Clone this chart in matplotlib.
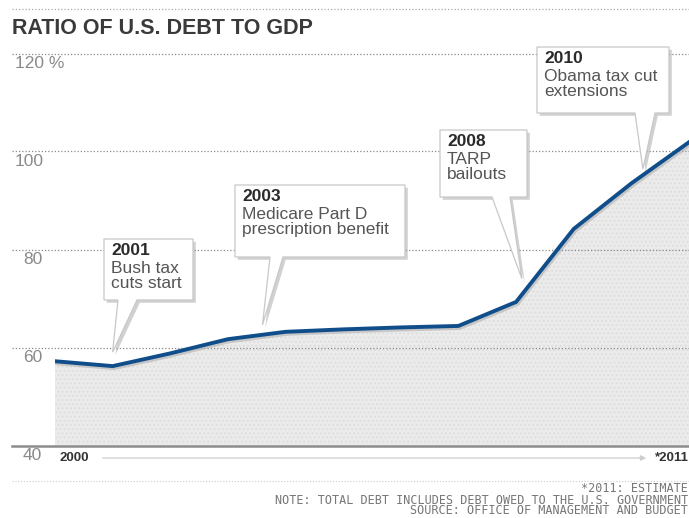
import numpy as np
import matplotlib
matplotlib.use('Agg')
import matplotlib.pyplot as plt
import matplotlib.patheffects as pe
import matplotlib.transforms as mtransforms
from matplotlib.patches import Polygon
from matplotlib.lines import Line2D

plt.rcParams['font.family'] = ['Liberation Sans', 'DejaVu Sans']

# Debt as a share of GDP (%); 2011 is an estimate
years = [2000, 2001, 2002, 2003, 2004, 2005, 2006, 2007, 2008, 2009, 2010, 2011]
ratio = [57.2, 56.2, 58.8, 61.7, 63.2, 63.7, 64.1, 64.4, 69.3, 84.2, 93.5, 101.9]

y_ticks = [40, 60, 80, 100, 120]
y_tick_labels = ['40', '60', '80', '100', '120 %']
x_labels = ['2000', '*2011']

# Callouts: title, text, and the year the pointer aims at
event_titles = ['2001', '2003', '2008', '2010']
event_texts = ['Bush tax\ncuts start', 'Medicare Part D\nprescription benefit',
               'TARP\nbailouts', 'Obama tax cut\nextensions']
event_tip_years = [2001.0, 2003.6, 2008.1, 2010.2]

notes = ['*2011: ESTIMATE',
         'NOTE: TOTAL DEBT INCLUDES DEBT OWED TO THE U.S. GOVERNMENT',
         'SOURCE: OFFICE OF MANAGEMENT AND BUDGET']

# box layout in image pixels: left, right, top, bottom, tail left, tail right, gap above line
box_layout = [
    (104, 193, 239, 300, 118, 137, 14),
    (235, 405, 185, 257, 270, 283, 10),
    (440, 527, 130, 197, 492, 510, 16),
    (537, 669, 47, 113, 635, 655, 6),
]

W, H = 689, 518
fig = plt.figure(figsize=(W / 100, H / 100), dpi=100)
ax = fig.add_axes([55 / W, (H - 445.5) / H, 634 / W, 392 / H])
ax.set_xlim(years[0], years[-1])
ax.set_ylim(y_ticks[0], y_ticks[-1])
ax.axis('off')

def px(x, y):
    # image pixel -> data coords
    return ax.transData.inverted().transform((x, H - y))

# shaded area and the line
ax.fill_between(years, ratio, y_ticks[0], facecolor='#ebebeb', edgecolor='#dedede',
                hatch='....', linewidth=0, zorder=1)
ax.plot(years, ratio, color='#0f4e8a', lw=2.8, solid_joinstyle='round', zorder=5,
        path_effects=[pe.SimpleLineShadow(offset=(1, -1.5), shadow_color='#b0b0b0', alpha=0.6),
                      pe.Normal()])

# gridlines reach out past the axes to the left
x_ext = -43 / 634
for v in y_ticks[1:]:
    ax.axhline(v, xmin=x_ext, xmax=1, clip_on=False, color='#8a8a8a', lw=0.9,
               ls=(0, (1, 1.6)), zorder=2)
ax.axhline(y_ticks[0], xmin=x_ext, xmax=1, clip_on=False, color='#8c8c8c', lw=1.8, zorder=4)

# y tick labels sit just under their gridline
blend = mtransforms.blended_transform_factory(ax.transAxes, ax.transData)
lab_trans = mtransforms.offset_copy(blend, fig=fig, y=-3, units='dots')
for v, lbl in zip(y_ticks, y_tick_labels):
    lx = 15 if len(lbl) >= 3 else 23
    ax.text((lx - 55) / 634, v, lbl, transform=lab_trans, ha='left', va='top',
            fontsize=12.5, color='#8a8a8a')

# x labels with an arrow between them
ylab = -(458 - 445.5) / 392
ax.text(5 / 634, ylab, x_labels[0], transform=ax.transAxes, ha='left', va='center',
        fontsize=9.5, fontweight='bold', color='#333333', clip_on=False)
ax.text(1.0, ylab, x_labels[1], transform=ax.transAxes, ha='right', va='center',
        fontsize=9.5, fontweight='bold', color='#333333', clip_on=False)
ax.annotate('', xy=((649 - 55) / 634, ylab), xytext=((100 - 55) / 634, ylab),
            xycoords='axes fraction', textcoords='axes fraction',
            arrowprops=dict(arrowstyle='-|>', color='#cccccc', lw=0.9, mutation_scale=8))

# callout boxes
for title, text, tip_year, lay in zip(event_titles, event_texts, event_tip_years, box_layout):
    l, r, t, b, tl, tr, gap = lay
    tip_val = np.interp(tip_year, years, ratio)
    tip_px = ax.transData.transform((tip_year, tip_val))
    tip = px(tip_px[0], H - tip_px[1] - gap)
    pts = [px(l, t), px(r, t), px(r, b), px(tr, b), tip, px(tl, b), px(l, b)]
    poly = Polygon(pts, closed=True, facecolor='white', edgecolor='#c8c8c8', lw=0.9,
                   zorder=6, clip_on=False,
                   path_effects=[pe.withSimplePatchShadow(offset=(2, -2), shadow_rgbFace='#9a9a9a',
                                                          alpha=0.45)])
    ax.add_patch(poly)
    tx, ty = px(l + 7, t + 4)
    ax.text(tx, ty, title, ha='left', va='top', fontsize=12.5, fontweight='bold',
            color='#2a2a2a', zorder=7, clip_on=False)
    tx, ty = px(l + 7, t + 22)
    ax.text(tx, ty, text, ha='left', va='top', fontsize=12.5, color='#555555',
            linespacing=1.0, zorder=7, clip_on=False)

# title and the dotted rules around it
fig.add_artist(Line2D([12 / W, 1], [1 - 9 / H] * 2, color='#aaaaaa', lw=0.9, ls=(0, (1, 1.6))))
fig.text(12 / W, 1 - 29 / H, 'RATIO OF U.S. DEBT TO GDP', ha='left', va='center',
         fontsize=15.5, fontweight='bold', color='#3a3a3a')

# footer, one right-aligned block
fig.add_artist(Line2D([12 / W, 1], [1 - 481 / H] * 2, color='#cccccc', lw=0.8, ls=(0, (1, 1.6))))
fig.text(688 / W, 1 - 500 / H, '\n'.join(notes), ha='right', va='center',
         multialignment='right', family='DejaVu Sans Mono', fontsize=8.5,
         linespacing=0.8, color='#777777')

fig.savefig('out.png', dpi=100, facecolor='white')
